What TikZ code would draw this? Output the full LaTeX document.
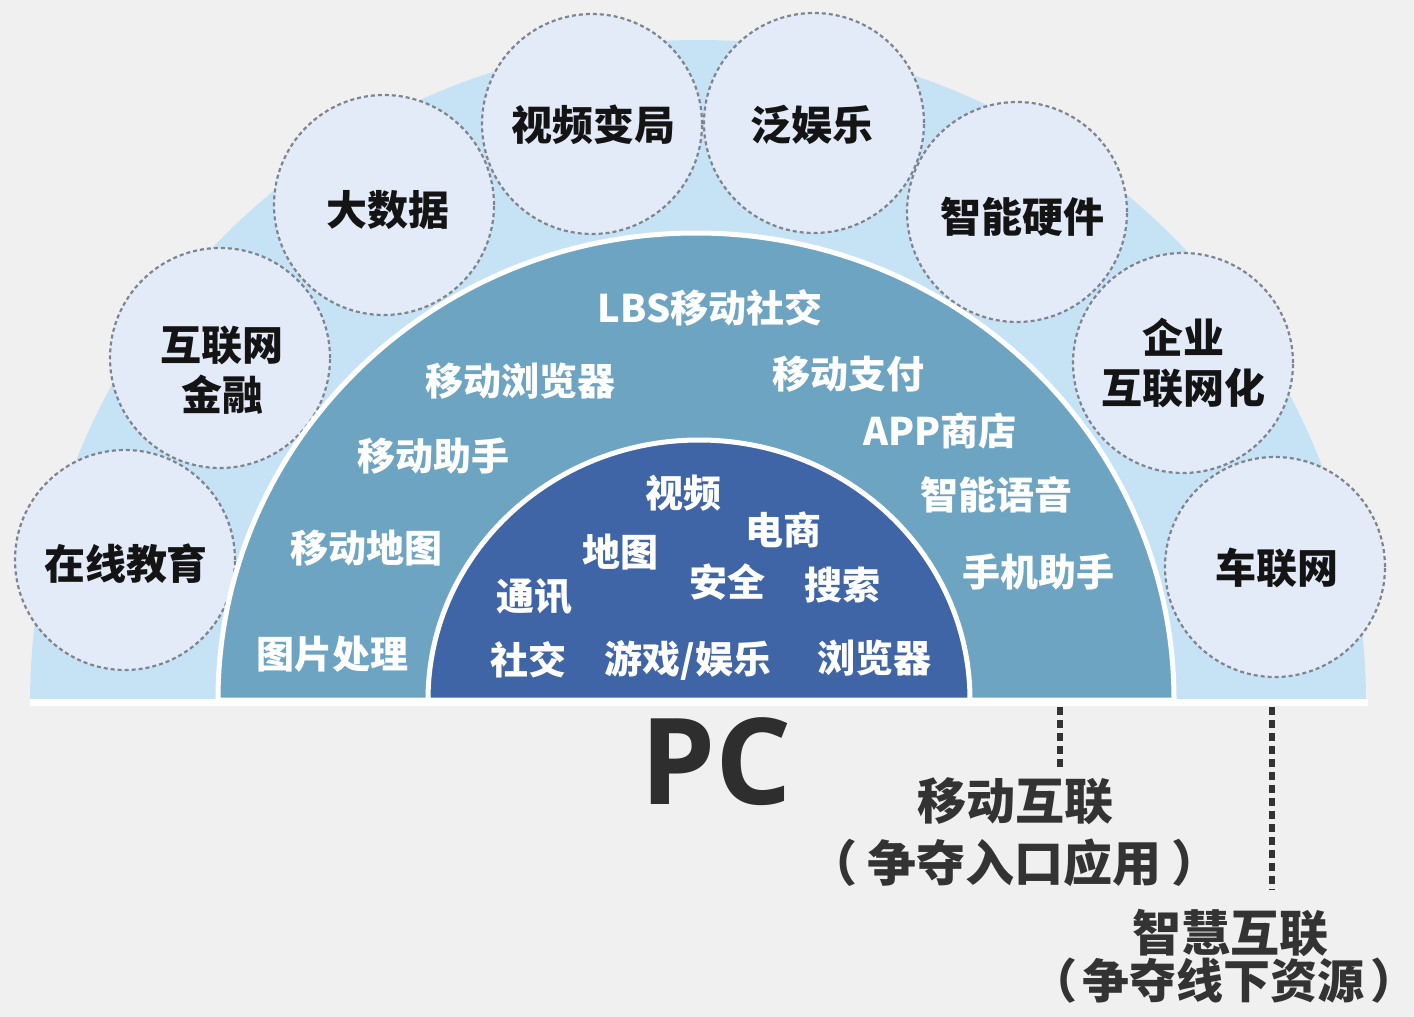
\documentclass[tikz,border=0pt]{standalone}
\usepackage{fontspec}
\setmainfont{Noto Sans CJK SC}
\newfontfamily\pcfont{Open Sans}
\definecolor{bgc}{HTML}{F0F0F0}
\definecolor{outerblue}{HTML}{C6E3F5}
\definecolor{midblue}{HTML}{6DA4C2}
\definecolor{innerblue}{HTML}{3F65A6}
\definecolor{bubblefill}{HTML}{E3EBF9}
\definecolor{bubbleline}{HTML}{7F848E}
\definecolor{darktext}{HTML}{333333}
\tikzset{
  bubble/.style={circle, fill=bubblefill, minimum size=110pt, inner sep=0pt},
  bubbleborder/.style={draw=bubbleline, line width=1.1pt, dash pattern=on 2pt off 1.5pt},
  bubbletext/.style={text=black!92, font=\bfseries\fontsize{20.5pt}{24pt}\selectfont, align=center, inner sep=0pt},
  ringtext/.style={text=white, font=\bfseries\fontsize{19pt}{22pt}\selectfont, inner sep=0pt},
  bottomtext/.style={text=darktext, font=\bfseries\fontsize{24.5pt}{28pt}\selectfont, inner sep=0pt},
  pctext/.style={text=darktext!90!black, font=\pcfont\bfseries\fontsize{60pt}{62pt}\selectfont, inner sep=0pt},
  guideline/.style={draw=darktext, line width=2.6pt, dash pattern=on 4pt off 2.5pt}
}
\begin{document}
\begin{tikzpicture}[x=0.5pt,y=-0.5pt]
\useasboundingbox (0,0) rectangle (1414,1017);
\fill[bgc] (0,0) rectangle (1414,1017);
% outer light-blue half disc
\fill[outerblue] (30,703) arc[start angle=180,end angle=360,x radius=668,y radius=663] -- cycle;
% bubbles
\node[bubble] (c1) at (125,560) {};
\node[bubble] (c2) at (220,358) {};
\node[bubble] (c3) at (384,205) {};
\node[bubble] (c4) at (592,124) {};
\node[bubble] (c5) at (814,123) {};
\node[bubble] (c6) at (1017,212) {};
\node[bubble] (c7) at (1183,363) {};
\node[bubble] (c8) at (1275,567) {};
\foreach \c in {c1,c2,c3,c4,c5,c6,c7,c8}
  \draw[bubbleborder] (\c.center) circle[radius=55pt];
% middle ring
\filldraw[fill=midblue, draw=white, line width=2.5pt] (218,700) arc[start angle=180,end angle=360,x radius=478,y radius=467] -- cycle;
% inner core
\filldraw[fill=innerblue, draw=white, line width=2.5pt] (428,700) arc[start angle=180,end angle=360,x radius=271,y radius=260] -- cycle;
\fill[white] (30,699) rectangle (1368,706);
% bubble labels
\node[bubbletext] (t1) at (126,564) {在线教育};
\node[bubbletext] (t2) at (222,370) {互联网\\[1pt]金融};
\node[bubbletext] (t3) at (388,210) {大数据};
\node[bubbletext] (t4) at (593,125) {视频变局};
\node[bubbletext] (t5) at (812,125) {泛娱乐};
\node[bubbletext] (t6) at (1022,217) {智能硬件};
\node[bubbletext] (t7) at (1183,363) {企业\\[1pt]互联网化};
\node[bubbletext] (t8) at (1277,568) {车联网};
% middle ring labels
\node[ringtext] (m1) at (710,308) {LBS移动社交};
\node[ringtext] (m2) at (520,381) {移动浏览器};
\node[ringtext] (m3) at (848,374) {移动支付};
\node[ringtext] (m4) at (433,456) {移动助手};
\node[ringtext] (m5) at (940,431) {APP商店};
\node[ringtext] (m6) at (996,495) {智能语音};
\node[ringtext] (m7) at (366,548) {移动地图};
\node[ringtext] (m8) at (1038,572) {手机助手};
\node[ringtext] (m9) at (332,654) {图片处理};
% inner labels
\node[ringtext] (i1) at (683,493) {视频};
\node[ringtext] (i2) at (783,530) {电商};
\node[ringtext] (i3) at (620,552) {地图};
\node[ringtext] (i4) at (727,582) {安全};
\node[ringtext] (i5) at (842,585) {搜索};
\node[ringtext] (i6) at (534,597) {通讯};
\node[ringtext] (i7) at (528,660) {社交};
\node[ringtext] (i8) at (688,660) {游戏/娱乐};
\node[ringtext] (i9) at (874,658) {浏览器};
% bottom
\node[pctext] (pc) at (716,762) {PC};
\node[bottomtext] (b1) at (1015,801) {移动互联};
\node[bottomtext] (b2) at (1014,863) {（\hspace{5pt}争夺入口应用\hspace{5pt}）};
\node[bottomtext] (b3) at (1230,933) {智慧互联};
\node[bottomtext, font=\bfseries\fontsize{23.5pt}{26pt}\selectfont] (b4) at (1224,981) {（\hspace{3pt}争夺线下资源\hspace{3pt}）};
\coordinate (g1a) at (1060,707);
\coordinate (g1b) at (1060,768);
\coordinate (g2a) at (1272,707);
\coordinate (g2b) at (1272,890);
\draw[guideline] (g1a) -- (g1b);
\draw[guideline] (g2a) -- (g2b);
\end{tikzpicture}
\end{document}
